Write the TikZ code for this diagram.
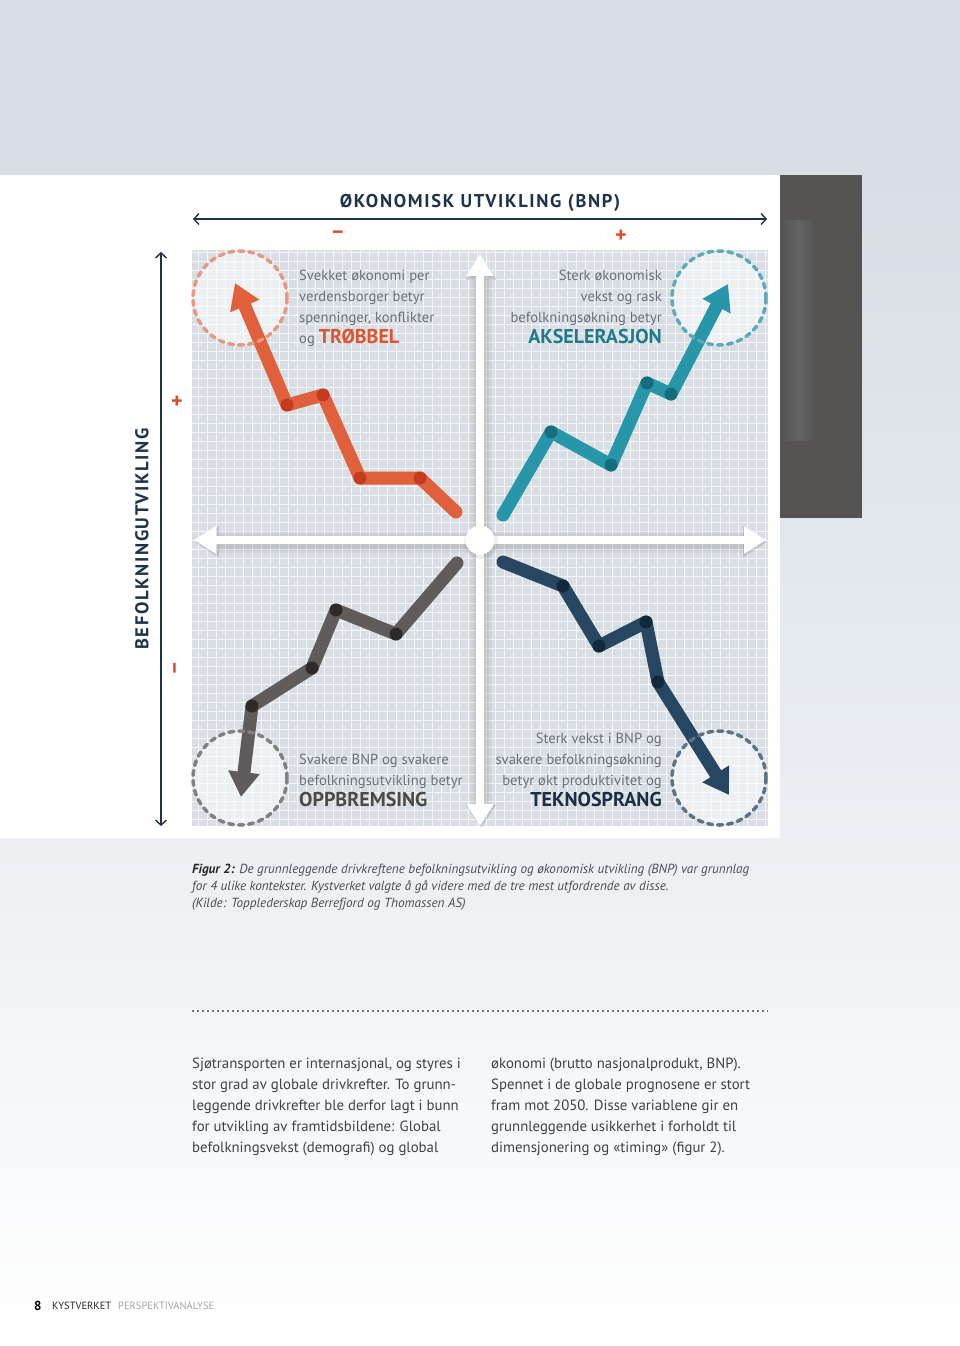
\documentclass[tikz,border=0pt]{standalone}
\usepackage{fontspec}
\setmainfont{PT Sans}
\newfontfamily\spacedbold{PT Sans}[LetterSpace=9]
\usetikzlibrary{arrows.meta}
\definecolor{bgtop}{HTML}{D7DEE5}
\definecolor{bgmid}{HTML}{E9EDF1}
\definecolor{darkblock}{HTML}{555453}
\definecolor{gridbg}{HTML}{D9DEE4}
\definecolor{navyt}{HTML}{1D3349}
\definecolor{accent}{HTML}{D94F2A}
\definecolor{qgray}{HTML}{6A7077}
\definecolor{redl}{HTML}{E0603C}
\definecolor{redd}{HTML}{C43B20}
\definecolor{redc}{HTML}{E69880}
\definecolor{teall}{HTML}{2796A9}
\definecolor{teald}{HTML}{146E7E}
\definecolor{tealc}{HTML}{5EAABB}
\definecolor{grayl}{HTML}{5F5C5B}
\definecolor{grayd}{HTML}{2D2A2A}
\definecolor{grayc}{HTML}{818181}
\definecolor{navyl}{HTML}{264661}
\definecolor{navyd}{HTML}{13283A}
\definecolor{navyc}{HTML}{5D7486}
\definecolor{trobc}{HTML}{DC5530}
\definecolor{akselc}{HTML}{1E7B8B}
\definecolor{oppc}{HTML}{4D4947}
\definecolor{teknoc}{HTML}{1B2E45}
\definecolor{bodyc}{HTML}{3E4246}
\definecolor{capc}{HTML}{4A4E52}
\begin{document}
\begin{tikzpicture}[x=1pt,y=-1pt,
  qtext/.style={inner sep=0pt, text=qgray, font=\fontsize{14.6}{21}\selectfont},
  trend/.style={line width=13pt, line cap=round, line join=round,
     -{Triangle[width=30pt,length=25pt]}},
  joint/.style={circle, inner sep=0pt, minimum size=13pt},
  ring/.style={line width=3.5pt, dash pattern=on 5pt off 5pt, line cap=round},
  ringfill/.style={circle, inner sep=0pt, minimum size=96pt, fill=white, fill opacity=.55},
  axisw/.style={white, line width=8pt,
     {Triangle[width=26pt,length=22pt]}-{Triangle[width=26pt,length=22pt]}},
  axisshadow/.style={black, opacity=.04, line width=#1,
     {Triangle[width=30pt,length=24pt]}-{Triangle[width=30pt,length=24pt]}},
  outeraxis/.style={navyt, line width=1.4pt,
     {Straight Barb[length=5pt,width=11pt]}-{Straight Barb[length=5pt,width=11pt]}},
  sign/.style={text=accent, font=\fontsize{22}{22}\selectfont\bfseries, inner sep=0pt},
  body/.style={inner sep=0pt, anchor=north west, align=left, text=bodyc,
     font=\fontsize{14.8}{21}\selectfont},
]
\useasboundingbox (0,0) rectangle (960,1346);
% background
\fill[bgtop] (0,0) rectangle (960,175);
\shade[top color=bgtop, bottom color=white, middle color=bgmid] (0,175) rectangle (960,1346);
\fill[white] (0,175) rectangle (780,838);
\fill[darkblock] (780,175) rectangle (862,518);
\shade[left color=darkblock, right color=darkblock, middle color=gray!70, opacity=.2] (782,220) rectangle (815,440);

% grid
\fill[gridbg] (192,250) rectangle (768,826);
\draw[white, opacity=.75, line width=0.8pt, step=9pt] (192,250) grid (768,826);

% title and outer axes
\node[inner sep=0pt, text=navyt, font=\fontsize{18.5}{20}\spacedbold\bfseries] (title) at (480,203) {ØKONOMISK UTVIKLING (BNP)};
\coordinate (hl) at (193,219);
\coordinate (hr) at (767,219);
\draw[outeraxis] (hl) -- (hr);
\node[sign] (minusT) at (338,235) {–};
\node[sign] (plusT) at (621,236) {+};
\coordinate (vtop) at (161,252);
\coordinate (vbot) at (161,826);
\draw[outeraxis] (vtop) -- (vbot);
\node[rotate=90, inner sep=0pt, text=navyt, font=\fontsize{18.5}{20}\spacedbold\bfseries] (ylabel) at (142,539) {BEFOLKNINGUTVIKLING};
\node[sign] (plusL) at (177,402) {+};
\node[sign, rotate=90] (minusL) at (177,668) {–};

% inner white axes
\coordinate (at) at (480,254);
\coordinate (ab) at (480,826);
\coordinate (al) at (194,540);
\coordinate (ar) at (766,540);
\foreach \w in {22pt,17pt,13pt} {
  \draw[axisshadow=\w] ([shift={(1,2)}]at) -- ([shift={(1,2)}]ab);
  \draw[axisshadow=\w] ([shift={(1,2)}]al) -- ([shift={(1,2)}]ar);
}
\draw[axisw] (at) -- (ab);
\draw[axisw] (al) -- (ar);
\node[circle, fill=black, opacity=.06, minimum size=34pt, inner sep=0pt] (cs) at (481,542) {};
\node[circle, fill=white, minimum size=29pt, inner sep=0pt] (c) at (480,540) {};

% ring fills
\node[ringfill] (cTL) at (240,298) {};
\node[ringfill] (cTR) at (719,298) {};
\node[ringfill] (cBL) at (240,778) {};
\node[ringfill] (cBR) at (719,778) {};

% red trend (TL)
\coordinate (r0) at (456,512);
\coordinate (r1) at (420,478);
\coordinate (r2) at (360,478);
\coordinate (r3) at (323,395);
\coordinate (r4) at (287,405);
\coordinate (r5) at (235,283);
\draw[trend, redl] (r0) -- (r1) -- (r2) -- (r3) -- (r4) -- (r5);
\foreach \p in {r1,r2,r3,r4} \node[joint, fill=redd] at (\p) {};

% teal trend (TR)
\coordinate (t0) at (503,515);
\coordinate (t1) at (551,432);
\coordinate (t2) at (611,465);
\coordinate (t3) at (647,383);
\coordinate (t4) at (671,394);
\coordinate (t5) at (728,284);
\draw[trend, teall] (t0) -- (t1) -- (t2) -- (t3) -- (t4) -- (t5);
\foreach \p in {t1,t2,t3,t4} \node[joint, fill=teald] at (\p) {};

% gray trend (BL)
\coordinate (g0) at (457,563);
\coordinate (g1) at (396,634);
\coordinate (g2) at (336,610);
\coordinate (g3) at (312,668);
\coordinate (g4) at (252,706);
\coordinate (g5) at (241,797);
\draw[trend, grayl] (g0) -- (g1) -- (g2) -- (g3) -- (g4) -- (g5);
\foreach \p in {g1,g2,g3,g4} \node[joint, fill=grayd] at (\p) {};

% navy trend (BR)
\coordinate (n0) at (503,562);
\coordinate (n1) at (563,586);
\coordinate (n2) at (599,646);
\coordinate (n3) at (646,622);
\coordinate (n4) at (658,682);
\coordinate (n5) at (729,795);
\draw[trend, navyl] (n0) -- (n1) -- (n2) -- (n3) -- (n4) -- (n5);
\foreach \p in {n1,n2,n3,n4} \node[joint, fill=navyd] at (\p) {};

% ring outlines
\draw[ring, redc] (cTL.center) circle[radius=47pt];
\draw[ring, tealc] (cTR.center) circle[radius=47pt];
\draw[ring, grayc] (cBL.center) circle[radius=47pt];
\draw[ring, navyc] (cBR.center) circle[radius=47pt];

% quadrant texts
\node[qtext, anchor=north west, align=left] (tTL) at (299,269.5)
  {Svekket økonomi per\\verdensborger betyr\\spenninger, konflikter\\og {\fontsize{20}{21}\selectfont\bfseries\color{trobc}TRØBBEL}};
\node[qtext, anchor=north east, align=right] (tTR) at (662,269.5)
  {Sterk økonomisk\\vekst og rask\\befolkningsøkning betyr\\{\fontsize{20}{21}\selectfont\bfseries\color{akselc}AKSELERASJON}};
\node[qtext, anchor=north west, align=left] (tBL) at (299,754)
  {Svakere BNP og svakere\\befolkningsutvikling betyr\\{\fontsize{20}{21}\selectfont\bfseries\color{oppc}OPPBREMSING}};
\node[qtext, anchor=north east, align=right] (tBR) at (662,733)
  {Sterk vekst i BNP og\\svakere befolkningsøkning\\betyr økt produktivitet og\\{\fontsize{20}{21}\selectfont\bfseries\color{teknoc}TEKNOSPRANG}};

% caption
\node[inner sep=0pt, anchor=north west, align=left, text=capc, font=\fontsize{13.2}{17}\selectfont\itshape] (cap) at (192,864)
  {{\bfseries\color{black!85}Figur 2:} De grunnleggende drivkreftene befolkningsutvikling og økonomisk utvikling (BNP) var grunnlag\\for 4 ulike kontekster. Kystverket valgte å gå videre med de tre mest utfordrende av disse.\\(Kilde: Topplederskap Berrefjord og Thomassen AS)};

% dotted rule
\coordinate (dl) at (192,1011);
\coordinate (dr) at (768,1011);
\draw[black!55, line width=1.8pt, dash pattern=on 1.8pt off 3.2pt] (dl) -- (dr);

% body text
\node[body] (col1) at (192,1058)
  {Sjøtransporten er internasjonal, og styres i\\stor grad av globale drivkrefter. To grunn-\\leggende drivkrefter ble derfor lagt i bunn\\for utvikling av framtidsbildene: Global\\befolkningsvekst (demografi) og global};
\node[body] (col2) at (491,1058)
  {økonomi (brutto nasjonalprodukt, BNP).\\Spennet i de globale prognosene er stort\\fram mot 2050. Disse variablene gir en\\grunnleggende usikkerhet i forholdt til\\dimensjonering og «timing» (figur 2).};

% footer
\node[inner sep=0pt, anchor=west, font=\fontsize{13}{13}\selectfont\bfseries] (pg) at (34,1306) {8};
\node[inner sep=0pt, anchor=west, font=\fontsize{10.5}{11}\selectfont, text=black!85] (f1) at (52,1306) {KYSTVERKET};
\node[inner sep=0pt, anchor=west, font=\fontsize{10.5}{11}\selectfont, text=black!35] (f2) at (118,1306) {PERSPEKTIVANALYSE};
\end{tikzpicture}
\end{document}
